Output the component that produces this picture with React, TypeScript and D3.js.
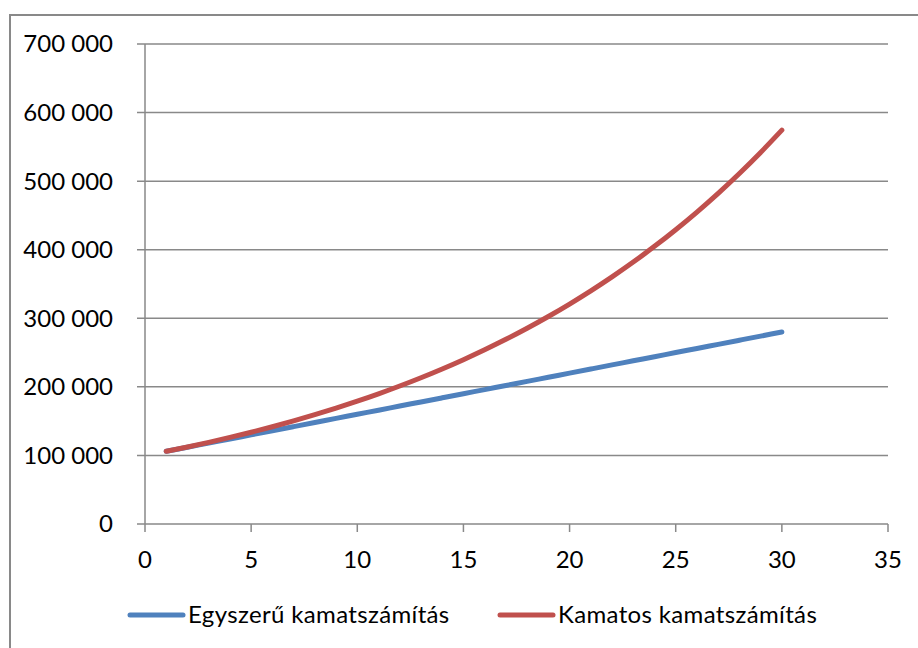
import * as d3 from "d3";

const years = Array.from({ length: 30 }, (_, i) => i + 1);

// Egyszerű kamatszámítás (simple interest)
const simpleValues = [
  106000, 112000, 118000, 124000, 130000, 136000, 142000, 148000, 154000, 160000,
  166000, 172000, 178000, 184000, 190000, 196000, 202000, 208000, 214000, 220000,
  226000, 232000, 238000, 244000, 250000, 256000, 262000, 268000, 274000, 280000,
];

// Kamatos kamatszámítás (compound interest)
const compoundValues = [
  106000, 112360, 119102, 126248, 133823, 141852, 150363, 159385, 168948, 179085,
  189830, 201220, 213293, 226090, 239656, 254035, 269277, 285434, 302560, 320714,
  339956, 360354, 381975, 404893, 429187, 454938, 482235, 511169, 541839, 574349,
];

const xTicks = [0, 5, 10, 15, 20, 25, 30, 35];
const yTicks = [0, 100000, 200000, 300000, 400000, 500000, 600000, 700000];

const seriesNames = ["Egyszerű kamatszámítás", "Kamatos kamatszámítás"];
const colors = ["#4f81bd", "#c0504d"];

const W = 918;
const H = 648;
const font = "Lato, 'Open Sans', sans-serif";
const grid = "#898989";

export default function App() {
  const x = d3.scaleLinear().domain([0, 35]).range([145, 888]);
  const y = d3.scaleLinear().domain([0, 700000]).range([524, 44]);

  const fmt = (v: number) => d3.format(",")(v).replace(/,/g, " ");

  const line = d3
    .line<number>()
    .x((_, i) => x(years[i]))
    .y((d) => y(d))
    .curve(d3.curveMonotoneX);

  const series = [simpleValues, compoundValues];
  const legendX = [130, 500];

  return (
    <svg
      width={W}
      height={H}
      style={{ position: "absolute", left: 0, top: 0, background: "#fff" }}
      fontFamily={font}
    >
      <rect x={10} y={15} width={930} height={660} fill="#fff" stroke={grid} strokeWidth={2} />

      {/* horizontal gridlines + y ticks */}
      {yTicks.map((t) => (
        <g key={t}>
          <line x1={137} x2={888} y1={y(t)} y2={y(t)} stroke={grid} strokeWidth={1.5} />
          <text x={113} y={y(t)} dy="0.35em" textAnchor="end" fontSize={24} fill="#000">
            {fmt(t)}
          </text>
        </g>
      ))}

      {/* y axis */}
      <line x1={145} x2={145} y1={y(700000)} y2={y(0)} stroke={grid} strokeWidth={1.5} />

      {/* x ticks */}
      {xTicks.map((t) => (
        <g key={t}>
          <line x1={x(t)} x2={x(t)} y1={y(0)} y2={y(0) + 8} stroke={grid} strokeWidth={1.5} />
          <text x={x(t)} y={560} dy="0.35em" textAnchor="middle" fontSize={24} fill="#000">
            {t}
          </text>
        </g>
      ))}

      {series.map((s, i) => (
        <path
          key={i}
          d={line(s) ?? ""}
          fill="none"
          stroke={colors[i]}
          strokeWidth={5}
          strokeLinecap="round"
          strokeLinejoin="round"
        />
      ))}

      {/* legend */}
      {seriesNames.map((n, i) => (
        <g key={n}>
          <line
            x1={legendX[i]}
            x2={legendX[i] + 53}
            y1={615}
            y2={615}
            stroke={colors[i]}
            strokeWidth={5}
            strokeLinecap="round"
          />
          <text
            x={legendX[i] + 58}
            y={615}
            dy="0.35em"
            fontSize={24}
            letterSpacing={0.35}
            fill="#000"
          >
            {n}
          </text>
        </g>
      ))}
    </svg>
  );
}
